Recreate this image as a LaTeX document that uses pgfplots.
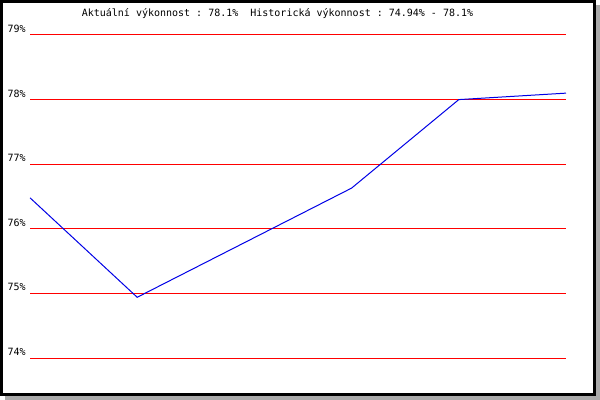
\documentclass[border=0pt]{standalone}
\usepackage{pgfplots}
\pgfplotsset{compat=1.18}
\usepackage{fontspec}
\setmonofont{DejaVu Sans Mono}
\definecolor{shadowgray}{RGB}{170,170,170}
\definecolor{gridred}{RGB}{255,0,0}
\definecolor{lineblue}{RGB}{0,0,230}

\begin{document}
\begin{tikzpicture}
% frame in pixel units (origin top-left of the 600x400 image)
\begin{scope}[x=0.75pt,y=-0.75pt,shift={(-30,-358)}]
  \useasboundingbox (0,0) rectangle (600,400);
  \fill[shadowgray] (5,5) rectangle (600,400);
  \fill[white] (0,0) rectangle (596,396);
  \draw[black,line width=2.2pt] (1.4,1.4) rectangle (594.6,394.6);
  \node[anchor=base,font=\ttfamily\fontsize{7.5}{9}\selectfont,inner sep=0pt]
    at (277.5,17) {Aktuální výkonnost : 78.1\%\ \ Historická výkonnost : 74.94\% - 78.1\%};
\end{scope}
\begin{axis}[
  at={(0,0)}, anchor=origin,
  scale only axis, width=402pt, height=242.25pt,
  xmin=0, xmax=5, ymin=74, ymax=79,
  axis line style={draw=none},
  xtick=\empty,
  ytick={74,75,76,77,78,79},
  yticklabels={74\%,75\%,76\%,77\%,78\%,79\%},
  ymajorgrids,
  grid style={gridred,line width=0.75pt},
  major tick length=0pt,
  tick style={draw=none},
  yticklabel style={anchor=south east,font=\ttfamily\fontsize{7.5}{9}\selectfont,
    inner sep=0pt,xshift=-3pt,yshift=1.5pt},
  clip=false,
]
\addplot[lineblue,line width=0.75pt] coordinates {(0,76.48) (1,74.94) (3,76.63) (4,78.0) (5,78.1)};
\end{axis}
\end{tikzpicture}
\end{document}
